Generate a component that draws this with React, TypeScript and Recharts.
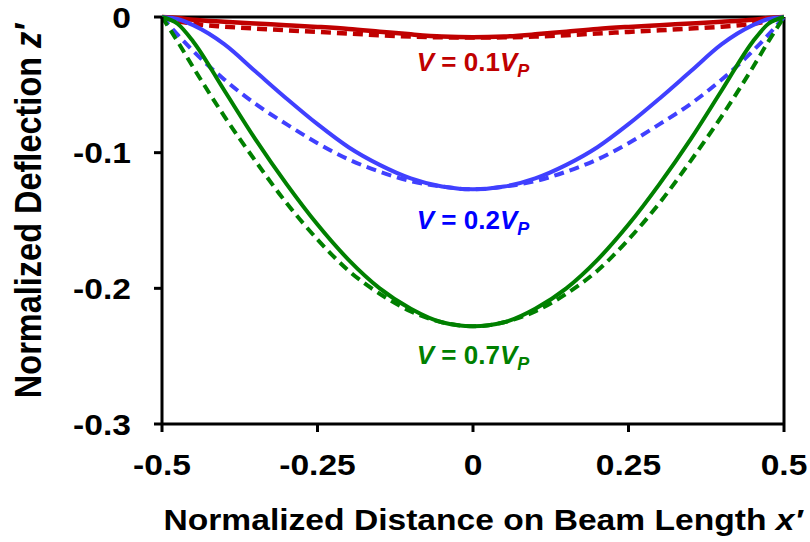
import React from 'react';
import { LineChart, Line, XAxis, YAxis, ReferenceLine, ReferenceDot, Label } from 'recharts';

// normalized position along the beam
const xPos = [-0.5, -0.475, -0.45, -0.4, -0.35, -0.3, -0.25, -0.2, -0.15, -0.1, -0.05, 0, 0.05, 0.1, 0.15, 0.2, 0.25, 0.3, 0.35, 0.4, 0.45, 0.475, 0.5];

// V = 0.1 Vp
const redSolid = [0, -0.0008, -0.002, -0.0035, -0.0048, -0.006, -0.0073, -0.0088, -0.0108, -0.0128, -0.0144, -0.015, -0.0144, -0.0128, -0.0108, -0.0088, -0.0073, -0.006, -0.0048, -0.0035, -0.002, -0.0008, 0];
const redDashed = [0, -0.003, -0.005, -0.0071, -0.0085, -0.0098, -0.011, -0.0122, -0.0134, -0.0144, -0.015, -0.0152, -0.015, -0.0144, -0.0134, -0.0122, -0.011, -0.0098, -0.0085, -0.0071, -0.005, -0.003, 0];

// V = 0.2 Vp
const blueSolid = [0, -0.0015, -0.006, -0.02, -0.04, -0.06, -0.079, -0.096, -0.109, -0.119, -0.125, -0.127, -0.125, -0.119, -0.109, -0.096, -0.079, -0.06, -0.04, -0.02, -0.006, -0.0015, 0];
const blueDashed = [0, -0.013, -0.025, -0.046, -0.064, -0.079, -0.093, -0.105, -0.114, -0.121, -0.125, -0.127, -0.125, -0.121, -0.114, -0.105, -0.093, -0.079, -0.064, -0.046, -0.025, -0.013, 0];

// V = 0.7 Vp
const greenSolid = [0, -0.005, -0.018, -0.054, -0.09, -0.123, -0.153, -0.179, -0.2, -0.215, -0.225, -0.228, -0.225, -0.215, -0.2, -0.179, -0.153, -0.123, -0.09, -0.054, -0.018, -0.005, 0];
const greenDashed = [0, -0.018, -0.037, -0.073, -0.106, -0.137, -0.164, -0.187, -0.204, -0.217, -0.225, -0.228, -0.225, -0.217, -0.204, -0.187, -0.164, -0.137, -0.106, -0.073, -0.037, -0.018, 0];

const xTicks = [-0.5, -0.25, 0, 0.25, 0.5];
const yTicks = [-0.3, -0.2, -0.1, 0];

// curve labels
const labelValues = ['0.1', '0.2', '0.7'];
const labelY = [-0.033, -0.1496, -0.249];
const labelColors = ['#C00000', '#0000FF', '#008000'];

const RED = '#C00000';
const BLUE = '#4040FF';
const GREEN = '#008000';

const FONT = "'Liberation Sans', Arial, sans-serif";
const STRETCH = 1.12;

const data = xPos.map((x, i) => ({
  x,
  rs: redSolid[i],
  rd: redDashed[i],
  bs: blueSolid[i],
  bd: blueDashed[i],
  gs: greenSolid[i],
  gd: greenDashed[i],
}));

const XTick = ({ x, y, payload }: any) => (
  <text
    transform={`translate(${x},${y}) scale(${STRETCH},1)`}
    textAnchor="middle"
    dy="0.71em"
    fontSize={30}
    fontWeight={700}
    fontFamily={FONT}
    fill="#000"
  >
    {String(payload.value)}
  </text>
);

const YTick = ({ x, y, payload }: any) => (
  <text
    transform={`translate(${x},${y}) scale(${STRETCH},1)`}
    textAnchor="end"
    dy="0.355em"
    fontSize={30}
    fontWeight={700}
    fontFamily={FONT}
    fill="#000"
  >
    {payload.value === 0 ? '0' : String(payload.value)}
  </text>
);

export default function App() {
  return (
    <div style={{ position: 'absolute', left: 0, top: 0, background: '#fff' }}>
      <LineChart width={810} height={542} data={data} margin={{ top: 17, right: 26, left: 0, bottom: 0 }}>
        <XAxis
          dataKey="x"
          type="number"
          domain={[-0.5, 0.5]}
          ticks={xTicks}
          height={118}
          axisLine={{ stroke: '#000', strokeWidth: 3 }}
          tickLine={{ stroke: '#000', strokeWidth: 3 }}
          tickSize={8}
          tickMargin={22}
          tick={<XTick />}
        >
          <Label
            content={({ viewBox }: any) => (
              <text
                transform={`translate(${viewBox.x + viewBox.width / 2 + 10},530) scale(${STRETCH},1)`}
                textAnchor="middle"
                fontSize={30}
                fontWeight={700}
                fontFamily={FONT}
                fill="#000"
              >
                Normalized Distance on Beam Length <tspan fontStyle="italic">x′</tspan>
              </text>
            )}
          />
        </XAxis>
        <YAxis
          type="number"
          domain={[-0.3, 0]}
          ticks={yTicks}
          width={162}
          axisLine={{ stroke: '#000', strokeWidth: 3 }}
          tickLine={{ stroke: '#000', strokeWidth: 3 }}
          tickSize={8}
          tickMargin={23}
          tick={<YTick />}
        >
          <Label
            content={() => (
              <text
                transform={`translate(41,211) rotate(-90) scale(1,${STRETCH})`}
                textAnchor="middle"
                fontSize={32.5}
                fontWeight={700}
                fontFamily={FONT}
                fill="#000"
              >
                Normalized Deflection <tspan fontStyle="italic">z′</tspan>
              </text>
            )}
          />
        </YAxis>

        <ReferenceLine y={0} stroke="#000" strokeWidth={3} />
        <ReferenceLine x={0.5} stroke="#000" strokeWidth={3} />

        <Line type="monotone" dataKey="rd" stroke={RED} strokeWidth={4.5} strokeDasharray="10 6" dot={false} isAnimationActive={false} />
        <Line type="monotone" dataKey="rs" stroke={RED} strokeWidth={4.5} dot={false} isAnimationActive={false} />
        <Line type="monotone" dataKey="bd" stroke={BLUE} strokeWidth={4} strokeDasharray="10 6" dot={false} isAnimationActive={false} />
        <Line type="monotone" dataKey="bs" stroke={BLUE} strokeWidth={4} dot={false} isAnimationActive={false} />
        <Line type="monotone" dataKey="gd" stroke={GREEN} strokeWidth={4} strokeDasharray="10 6" dot={false} isAnimationActive={false} />
        <Line type="monotone" dataKey="gs" stroke={GREEN} strokeWidth={4} dot={false} isAnimationActive={false} />

        {labelValues.map((v, i) => (
          <ReferenceDot
            key={v}
            x={0}
            y={labelY[i]}
            r={0}
            shape={(p: any) => (
              <text
                x={p.cx}
                y={p.cy + 9}
                textAnchor="middle"
                fontSize={26}
                fontWeight={700}
                fontFamily={FONT}
                fill={labelColors[i]}
              >
                <tspan fontStyle="italic">V</tspan>
                {` = ${v}`}
                <tspan fontStyle="italic">V</tspan>
                <tspan fontStyle="italic" fontSize={18} dy={6}>P</tspan>
              </text>
            )}
          />
        ))}
      </LineChart>
    </div>
  );
}
